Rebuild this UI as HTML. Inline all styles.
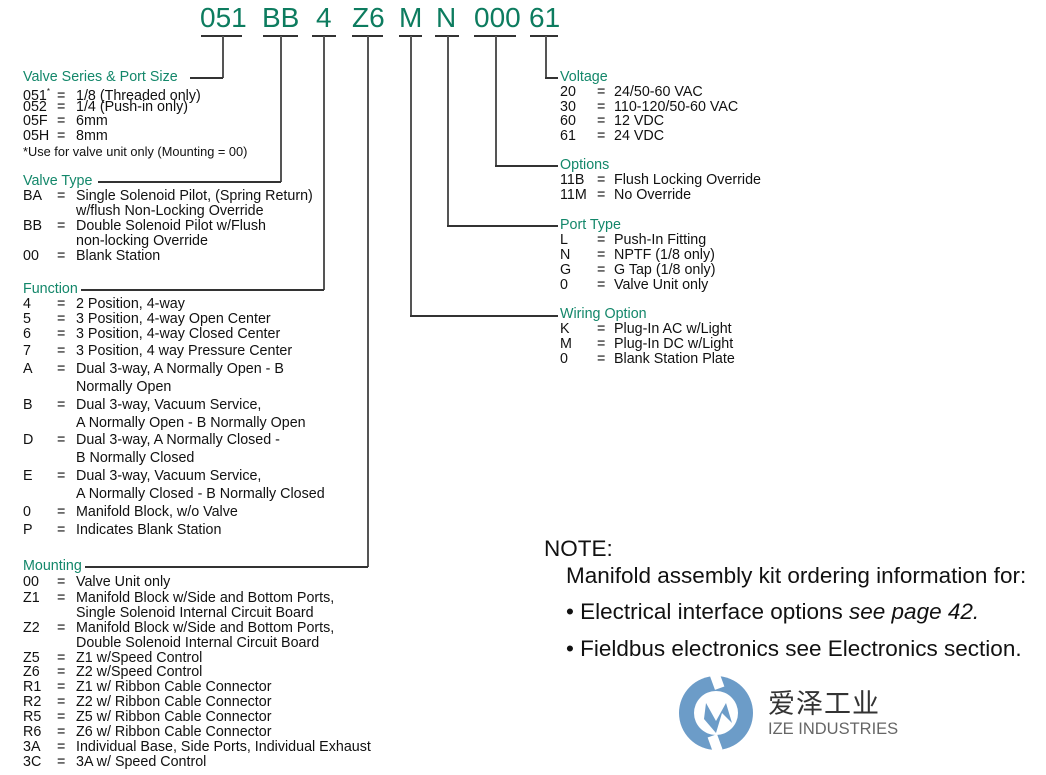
<!DOCTYPE html>
<html><head><meta charset="utf-8"><style>
body{margin:0;width:1046px;height:775px;background:#fff;position:relative;overflow:hidden;font-family:"Liberation Sans",Arial,sans-serif;color:#111}
.r{position:absolute;white-space:nowrap;font-size:14.3px;line-height:16px}
.r b{font-weight:normal;display:inline-block}
.L b:nth-child(1){width:34px}.L b:nth-child(2){width:19px}
.R b:nth-child(1){width:37px}.R b:nth-child(2){width:17px}
.h{color:#13876a}
.c{position:absolute;top:2px;font-size:28px;color:#0d7c5f;line-height:32px}
.u{position:absolute;top:35px;height:1.5px;background:#333}
.v{position:absolute;width:1.5px;background:#555}
.hl{position:absolute;height:1.5px;background:#333}
.n{position:absolute;font-size:22.5px;white-space:nowrap;line-height:26px}
</style></head><body>
<div class="c" style="left:200px">051</div><div class="u" style="left:201px;width:41px"></div>
<div class="c" style="left:262px">BB</div><div class="u" style="left:263px;width:35px"></div>
<div class="c" style="left:316px">4</div><div class="u" style="left:312px;width:24px"></div>
<div class="c" style="left:352px">Z6</div><div class="u" style="left:352px;width:31px"></div>
<div class="c" style="left:399px">M</div><div class="u" style="left:399px;width:23px"></div>
<div class="c" style="left:436px">N</div><div class="u" style="left:435px;width:24px"></div>
<div class="c" style="left:474px">000</div><div class="u" style="left:474px;width:42px"></div>
<div class="c" style="left:529px">61</div><div class="u" style="left:530px;width:28px"></div>
<div class="v" style="left:222px;top:36px;height:42px"></div><div class="hl" style="left:190px;top:77px;width:33px"></div>
<div class="v" style="left:280px;top:36px;height:146px"></div><div class="hl" style="left:98px;top:181px;width:183px"></div>
<div class="v" style="left:323px;top:36px;height:254px"></div><div class="hl" style="left:81px;top:289px;width:243px"></div>
<div class="v" style="left:367px;top:36px;height:531px"></div><div class="hl" style="left:85px;top:566px;width:283px"></div>
<div class="v" style="left:410px;top:36px;height:280px"></div><div class="hl" style="left:410px;top:315px;width:148px"></div>
<div class="v" style="left:447px;top:36px;height:190px"></div><div class="hl" style="left:447px;top:225px;width:111px"></div>
<div class="v" style="left:495px;top:36px;height:130px"></div><div class="hl" style="left:495px;top:165px;width:63px"></div>
<div class="v" style="left:545px;top:36px;height:42px"></div><div class="hl" style="left:545px;top:77px;width:13px"></div>
<div class="r h" style="left:23px;top:69px">Valve Series &amp; Port Size</div>
<div class="r L" style="left:23px;top:84px"><b>051<sup style="font-size:8px">*</sup></b><b>=</b><b>1/8 (Threaded only)</b></div>
<div class="r L" style="left:23px;top:99px"><b>052</b><b>=</b><b>1/4 (Push-in only)</b></div>
<div class="r L" style="left:23px;top:113px"><b>05F</b><b>=</b><b>6mm</b></div>
<div class="r L" style="left:23px;top:128px"><b>05H</b><b>=</b><b>8mm</b></div>
<div class="r" style="left:23px;top:144px;font-size:12.8px">*Use for valve unit only (Mounting = 00)</div>
<div class="r h" style="left:23px;top:173px">Valve Type</div>
<div class="r L" style="left:23px;top:188px"><b>BA</b><b>=</b><b>Single Solenoid Pilot, (Spring Return)</b></div>
<div class="r" style="left:76px;top:203px">w/flush Non-Locking Override</div>
<div class="r L" style="left:23px;top:218px"><b>BB</b><b>=</b><b>Double Solenoid Pilot w/Flush</b></div>
<div class="r" style="left:76px;top:233px">non-locking Override</div>
<div class="r L" style="left:23px;top:248px"><b>00</b><b>=</b><b>Blank Station</b></div>
<div class="r h" style="left:23px;top:281px">Function</div>
<div class="r L" style="left:23px;top:296px"><b>4</b><b>=</b><b>2 Position, 4-way</b></div>
<div class="r L" style="left:23px;top:311px"><b>5</b><b>=</b><b>3 Position, 4-way Open Center</b></div>
<div class="r L" style="left:23px;top:326px"><b>6</b><b>=</b><b>3 Position, 4-way Closed Center</b></div>
<div class="r L" style="left:23px;top:343px"><b>7</b><b>=</b><b>3 Position, 4 way Pressure Center</b></div>
<div class="r L" style="left:23px;top:361px"><b>A</b><b>=</b><b>Dual 3-way, A Normally Open - B</b></div>
<div class="r" style="left:76px;top:379px">Normally Open</div>
<div class="r L" style="left:23px;top:397px"><b>B</b><b>=</b><b>Dual 3-way, Vacuum Service,</b></div>
<div class="r" style="left:76px;top:415px">A Normally Open - B Normally Open</div>
<div class="r L" style="left:23px;top:432px"><b>D</b><b>=</b><b>Dual 3-way, A Normally Closed -</b></div>
<div class="r" style="left:76px;top:450px">B Normally Closed</div>
<div class="r L" style="left:23px;top:468px"><b>E</b><b>=</b><b>Dual 3-way, Vacuum Service,</b></div>
<div class="r" style="left:76px;top:486px">A Normally Closed - B Normally Closed</div>
<div class="r L" style="left:23px;top:504px"><b>0</b><b>=</b><b>Manifold Block, w/o Valve</b></div>
<div class="r L" style="left:23px;top:522px"><b>P</b><b>=</b><b>Indicates Blank Station</b></div>
<div class="r h" style="left:23px;top:558px">Mounting</div>
<div class="r L" style="left:23px;top:574px"><b>00</b><b>=</b><b>Valve Unit only</b></div>
<div class="r L" style="left:23px;top:590px"><b>Z1</b><b>=</b><b>Manifold Block w/Side and Bottom Ports,</b></div>
<div class="r" style="left:76px;top:605px">Single Solenoid Internal Circuit Board</div>
<div class="r L" style="left:23px;top:620px"><b>Z2</b><b>=</b><b>Manifold Block w/Side and Bottom Ports,</b></div>
<div class="r" style="left:76px;top:635px">Double Solenoid Internal Circuit Board</div>
<div class="r L" style="left:23px;top:650px"><b>Z5</b><b>=</b><b>Z1 w/Speed Control</b></div>
<div class="r L" style="left:23px;top:664px"><b>Z6</b><b>=</b><b>Z2 w/Speed Control</b></div>
<div class="r L" style="left:23px;top:679px"><b>R1</b><b>=</b><b>Z1 w/ Ribbon Cable Connector</b></div>
<div class="r L" style="left:23px;top:694px"><b>R2</b><b>=</b><b>Z2 w/ Ribbon Cable Connector</b></div>
<div class="r L" style="left:23px;top:709px"><b>R5</b><b>=</b><b>Z5 w/ Ribbon Cable Connector</b></div>
<div class="r L" style="left:23px;top:724px"><b>R6</b><b>=</b><b>Z6 w/ Ribbon Cable Connector</b></div>
<div class="r L" style="left:23px;top:739px"><b>3A</b><b>=</b><b>Individual Base, Side Ports, Individual Exhaust</b></div>
<div class="r L" style="left:23px;top:754px"><b>3C</b><b>=</b><b>3A w/ Speed Control</b></div>
<div class="r h" style="left:560px;top:69px">Voltage</div>
<div class="r R" style="left:560px;top:84px"><b>20</b><b>=</b><b>24/50-60 VAC</b></div>
<div class="r R" style="left:560px;top:99px"><b>30</b><b>=</b><b>110-120/50-60 VAC</b></div>
<div class="r R" style="left:560px;top:113px"><b>60</b><b>=</b><b>12 VDC</b></div>
<div class="r R" style="left:560px;top:128px"><b>61</b><b>=</b><b>24 VDC</b></div>
<div class="r h" style="left:560px;top:157px">Options</div>
<div class="r R" style="left:560px;top:172px"><b>11B</b><b>=</b><b>Flush Locking Override</b></div>
<div class="r R" style="left:560px;top:187px"><b>11M</b><b>=</b><b>No Override</b></div>
<div class="r h" style="left:560px;top:217px">Port Type</div>
<div class="r R" style="left:560px;top:232px"><b>L</b><b>=</b><b>Push-In Fitting</b></div>
<div class="r R" style="left:560px;top:247px"><b>N</b><b>=</b><b>NPTF (1/8 only)</b></div>
<div class="r R" style="left:560px;top:262px"><b>G</b><b>=</b><b>G Tap (1/8 only)</b></div>
<div class="r R" style="left:560px;top:277px"><b>0</b><b>=</b><b>Valve Unit only</b></div>
<div class="r h" style="left:560px;top:306px">Wiring Option</div>
<div class="r R" style="left:560px;top:321px"><b>K</b><b>=</b><b>Plug-In AC w/Light</b></div>
<div class="r R" style="left:560px;top:336px"><b>M</b><b>=</b><b>Plug-In DC w/Light</b></div>
<div class="r R" style="left:560px;top:351px"><b>0</b><b>=</b><b>Blank Station Plate</b></div>
<div class="n" style="left:544px;top:536px">NOTE:</div>
<div class="n" style="left:566px;top:563px">Manifold assembly kit ordering information for:</div>
<div class="n" style="left:566px;top:599px">• Electrical interface options <i>see page 42.</i></div>
<div class="n" style="left:566px;top:636px">• Fieldbus electronics see Electronics section.</div>
<svg style="position:absolute;left:676px;top:673px" width="80" height="80" viewBox="0 0 80 80">
<circle cx="40" cy="40" r="37" fill="#6c9cc8"/>
<circle cx="40" cy="40" r="22" fill="#fff"/>
<path d="M30 30 L40 48 L50 30 L56 50 L46 40 L40 60 L28 46Z" fill="#6c9cc8"/>
<rect x="34" y="62" width="10" height="16" fill="#fff" transform="rotate(-20 40 70)"/>
<rect x="36" y="0" width="10" height="16" fill="#fff" transform="rotate(-20 40 8)"/>
</svg>
<div style="position:absolute;left:768px;top:686px;font-size:27px;color:#333;font-family:'Noto Sans CJK SC',sans-serif;line-height:32px;letter-spacing:1px">爱泽工业</div>
<div style="position:absolute;left:768px;top:720px;font-size:16.5px;color:#666;line-height:18px">IZE INDUSTRIES</div>
</body></html>
